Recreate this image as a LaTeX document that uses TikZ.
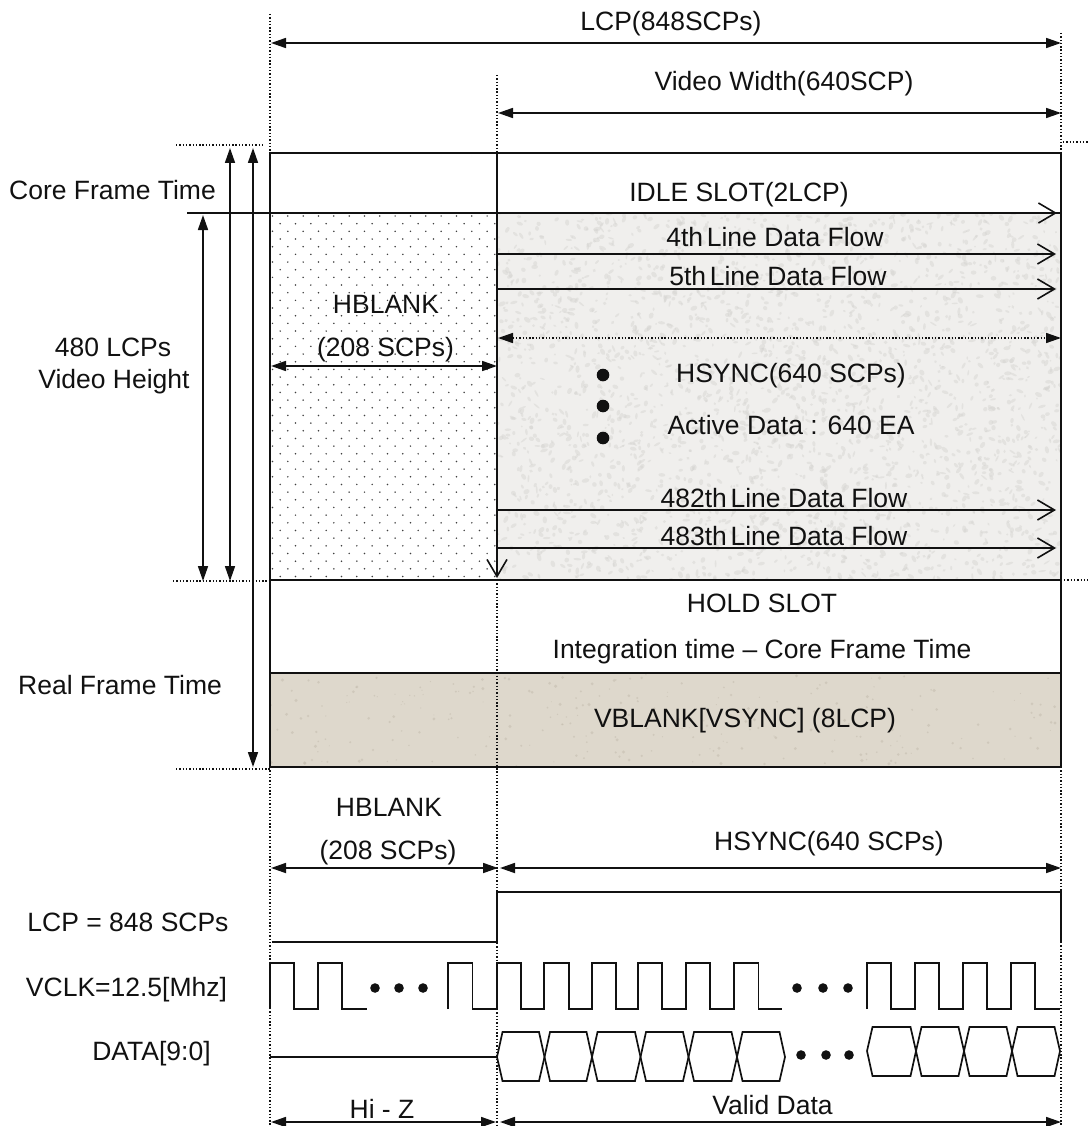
\documentclass[tikz,border=0pt]{standalone}
\usepackage{fontspec}
\setmainfont{Liberation Sans}
\usetikzlibrary{arrows.meta,calc}
\definecolor{activefill}{HTML}{F0EFED}
\definecolor{activespeck}{HTML}{D4D3D0}
\definecolor{vfill}{HTML}{DED8CC}
\definecolor{vspeck}{HTML}{C4BCAE}
\definecolor{ink}{HTML}{111111}
\tikzset{
  lbl/.style={inner sep=0pt,font=\fontsize{26.5}{31}\selectfont,text=ink},
  wire/.style={line width=1.7pt,draw=ink},
  frameline/.style={line width=2pt,draw=ink},
  guide/.style={line width=1.3pt,draw=ink,dash pattern=on 1.4pt off 1.9pt},
  dim/.style={line width=1.7pt,draw=ink,{Triangle[length=15pt,width=10pt]}-{Triangle[length=15pt,width=10pt]}},
  flow/.style={line width=1.6pt,draw=ink,-{Straight Barb[length=17pt,width=20pt,line width=1.6pt]}},
  dotb/.style={fill=ink,draw=none}
}
\newcommand{\thsp}{\kern-.14em\ }
\begin{document}
\begin{tikzpicture}[x=1pt,y=-1pt]
\useasboundingbox (0,0) rectangle (1088,1126);
% frame coordinates
\coordinate (tl) at (270,153); \coordinate (tm) at (497,153); \coordinate (tr) at (1061,153);
\coordinate (il) at (270,213); \coordinate (im) at (497,213); \coordinate (ir) at (1061,213);
\coordinate (hl) at (270,580); \coordinate (hm) at (497,580); \coordinate (hr) at (1061,580);
\coordinate (vl) at (270,673); \coordinate (vr) at (1061,673);
\coordinate (bl) at (270,767); \coordinate (br) at (1061,767);
% fills
\fill[activefill] (im) rectangle (hr);
\fill[vfill] (vl) rectangle (br);
\pgfmathsetseed{11}
\begin{scope}
\clip (im) rectangle (hr);
\foreach \i in {1,...,2600}{
  \pgfmathsetmacro{\qx}{497+564*rnd}
  \pgfmathsetmacro{\qy}{213+367*rnd}
  \pgfmathsetmacro{\qa}{1+3*rnd}
  \pgfmathsetmacro{\qb}{0.8+1.6*rnd}
  \pgfmathsetmacro{\qt}{180*rnd}
  \fill[activespeck,opacity=0.45,rotate around={\qt:(\qx,\qy)}] (\qx,\qy) ellipse ({\qa} and {\qb});
}
\end{scope}
\begin{scope}
\clip (vl) rectangle (br);
\foreach \i in {1,...,260}{
  \pgfmathsetmacro{\px}{270+791*rnd}
  \pgfmathsetmacro{\py}{673+94*rnd}
  \pgfmathsetmacro{\pr}{0.5+1.2*rnd}
  \fill[vspeck,opacity=0.55] (\px,\py) circle (\pr);
}
\end{scope}
% dotted HBLANK texture
\begin{scope}
\clip (il) rectangle (hm);
\foreach \r in {0,...,47}{
  \pgfmathsetmacro{\ry}{216+7.67*\r}
  \pgfmathsetmacro{\off}{mod(\r,2)==0 ? 0 : 7.67}
  \foreach \c in {0,...,15}{
    \fill[black!75] ({272.5+\off+15.33*\c},\ry) circle (0.85);
  }
}
\end{scope}
% guides
\coordinate (gl0) at (270,14); \coordinate (gl1) at (270,1126);
\coordinate (gm0) at (497,75); \coordinate (gm1) at (497,1126);
\coordinate (gr0) at (1061,33); \coordinate (gr1) at (1061,153);
\coordinate (gr2) at (1061,767); \coordinate (gr3) at (1061,1126);
\draw[guide] (gl0) -- (tl);
\draw[guide] (bl) -- (gl1);
\draw[guide] (gm0) -- (tm);
\draw[guide] (hm) -- (gm1);
\draw[guide] (gr0) -- (gr1);
\draw[guide] (gr2) -- (gr3);
\coordinate (a1) at (176,145); \coordinate (a2) at (262,145);
\coordinate (b1) at (173,581); \coordinate (b2) at (270,581);
\coordinate (c1) at (176,769); \coordinate (c2) at (270,769);
\coordinate (d1) at (1063,142); \coordinate (d2) at (1088,142);
\coordinate (e1) at (1064,580); \coordinate (e2) at (1088,580);
\draw[guide] (a1) -- (a2);
\draw[guide] (b1) -- (b2);
\draw[guide] (c1) -- (c2);
\draw[guide] (d1) -- (d2);
\draw[guide] (e1) -- (e2);
% frame
\draw[frameline] (tl) rectangle (br);
\draw[frameline] (hl) -- (hr);
\draw[frameline] (vl) -- (vr);
\coordinate (i0) at (187,213); \coordinate (i1) at (1057,213);
\draw[wire] (i0) -- (ir);
\draw[flow] (i0) -- (i1);
\coordinate (hm2) at (497,578);
\draw[flow] (tm) -- (hm2);
% top dims
\coordinate (p1) at (271,43); \coordinate (p2) at (1061,43);
\coordinate (p3) at (498,113); \coordinate (p4) at (1061,113);
\draw[dim] (p1) -- (p2);
\draw[dim] (p3) -- (p4);
% left arrows
\coordinate (v1a) at (230,148); \coordinate (v1b) at (230,581);
\coordinate (v2a) at (253,148); \coordinate (v2b) at (253,767);
\coordinate (v3a) at (203,215); \coordinate (v3b) at (203,581);
\draw[dim] (v1b) -- (v1a);
\draw[dim] (v2b) -- (v2a);
\draw[dim] (v3b) -- (v3a);
% inside arrows
\coordinate (h1) at (271,366); \coordinate (h2) at (497,366);
\draw[dim] (h1) -- (h2);
\coordinate (s1) at (498,338); \coordinate (s2) at (1061,338);
\draw[line width=1.5pt,draw=ink,dash pattern=on 1.4pt off 1.9pt,{Triangle[length=15pt,width=10pt]}-{Triangle[length=15pt,width=10pt]}] (s1) -- (s2);
\foreach \n/\y in {f/254,g/289,j/510,k/548}{
  \coordinate (\n0) at (497,\y);
  \coordinate (\n1) at (1056,\y);
  \draw[flow] (\n0) -- (\n1);
}
\fill[dotb] (603,375) circle (6.3);
\fill[dotb] (603,406) circle (6.3);
\fill[dotb] (603,438) circle (6.3);
% labels
\node[lbl] (t1) at (671,24) {LCP(848SCPs)};
\node[lbl] (t2) at (784,84) {Video Width(640SCP)};
\node[lbl] (t3) at (112.5,190) {Core Frame Time};
\node[lbl] (t4) at (739,195) {IDLE SLOT(2LCP)};
\node[lbl] (t5) at (775,237) {4th\thsp Line Data Flow};
\node[lbl] (t6) at (778,276) {5th\thsp Line Data Flow};
\node[lbl] (t7) at (386,304) {HBLANK};
\node[lbl] (t8) at (385.5,350) {(208 SCPs)};
\node[lbl] (t9) at (113,347) {480 LCPs};
\node[lbl] (t10) at (114,382) {Video Height};
\node[lbl] (t11) at (791,376) {HSYNC(640 SCPs)};
\node[lbl] (t12) at (791,425) {Active Data : 640 EA};
\node[lbl] (t13) at (784,498) {482th\thsp Line Data Flow};
\node[lbl] (t14) at (784,536) {483th\thsp Line Data Flow};
\node[lbl] (t15) at (762,603) {HOLD SLOT};
\node[lbl] (t16) at (762,652) {Integration time – Core Frame Time};
\node[lbl] (t17) at (745,721) {VBLANK[VSYNC] (8LCP)};
\node[lbl] (t18) at (120,685) {Real Frame Time};
\node[lbl] (t19) at (389,807) {HBLANK};
\node[lbl] (t20) at (388,853) {(208 SCPs)};
\node[lbl] (t21) at (829,844) {HSYNC(640 SCPs)};
\node[lbl] (t22) at (128,922) {LCP = 848 SCPs};
\node[lbl] (t23) at (126.5,990) {VCLK=12.5[Mhz]};
\node[lbl] (t24) at (151.5,1054) {DATA[9:0]};
\node[lbl] (t25) at (382,1109) {Hi - Z};
\node[lbl] (t26) at (772.5,1105) {Valid Data};
% bottom dims
\coordinate (q1) at (271,868); \coordinate (q2) at (498,868); \coordinate (q2b) at (500,868); \coordinate (q3) at (1061,868);
\draw[dim] (q1) -- (q2);
\draw[dim] (q2b) -- (q3);
\coordinate (u1) at (271,1122); \coordinate (u2) at (496,1122); \coordinate (u2b) at (500,1122); \coordinate (u3) at (1061,1122);
\draw[dim] (u1) -- (u2);
\draw[dim] (u2b) -- (u3);
% LCP signal
\coordinate (l0) at (272,942); \coordinate (l1) at (497,942); \coordinate (l2) at (497,892);
\coordinate (l3) at (1061,892); \coordinate (l4) at (1061,942);
\draw[wire] (l0) -- (l1) -- (l2) -- (l3) -- (l4);
% VCLK
\draw[wire] (270,1009) -- (270,963) -- (294,963) -- (294,1009) -- (318,1009) -- (318,963) -- (342,963) -- (342,1009) -- (367,1009);
\foreach \x in {375,399,423}{\fill[dotb] (\x,988) circle (4.8);}
\draw[wire] (448,1009) -- (448,963) -- (472.5,963) -- (472.5,1009) -- (497,1009) -- (497,963) -- (521,963) -- (521,1009) -- (544,1009) -- (544,963) -- (569,963) -- (569,1009) -- (592,1009) -- (592,963) -- (616,963) -- (616,1009) -- (638,1009) -- (638,963) -- (662,963) -- (662,1009) -- (686,1009) -- (686,963) -- (710,963) -- (710,1009) -- (734,1009) -- (734,963) -- (758.5,963) -- (758.5,1009) -- (782,1009);
\foreach \x in {797,823,848}{\fill[dotb] (\x,988) circle (4.8);}
\draw[wire] (867,1009) -- (867,963) -- (891,963) -- (891,1009) -- (915,1009) -- (915,963) -- (939,963) -- (939,1009) -- (963,1009) -- (963,963) -- (987,963) -- (987,1009) -- (1011,1009) -- (1011,963) -- (1035,963) -- (1035,1009) -- (1060,1009);
% DATA
\coordinate (dz0) at (270,1057); \coordinate (dz1) at (497,1057);
\draw[wire] (dz0) -- (dz1);
\foreach \a/\b in {497/544.5,544.5/592,592/640.5,640.5/688.5,688.5/737,737/785}{
  \draw[wire,line join=miter] (\a,1057) -- ({\a+5.5},1032) -- ({\b-5.5},1032) -- (\b,1057) -- ({\b-5.5},1081) -- ({\a+5.5},1081) -- cycle;
}
\foreach \x in {801,826,849}{\fill[dotb] (\x,1055) circle (4.8);}
\foreach \a/\b in {867/916,916/964,964/1012,1012/1060}{
  \draw[wire,line join=miter] (\a,1051) -- ({\a+5.5},1027) -- ({\b-5.5},1027) -- (\b,1051) -- ({\b-5.5},1076) -- ({\a+5.5},1076) -- cycle;
}
\end{tikzpicture}
\end{document}
